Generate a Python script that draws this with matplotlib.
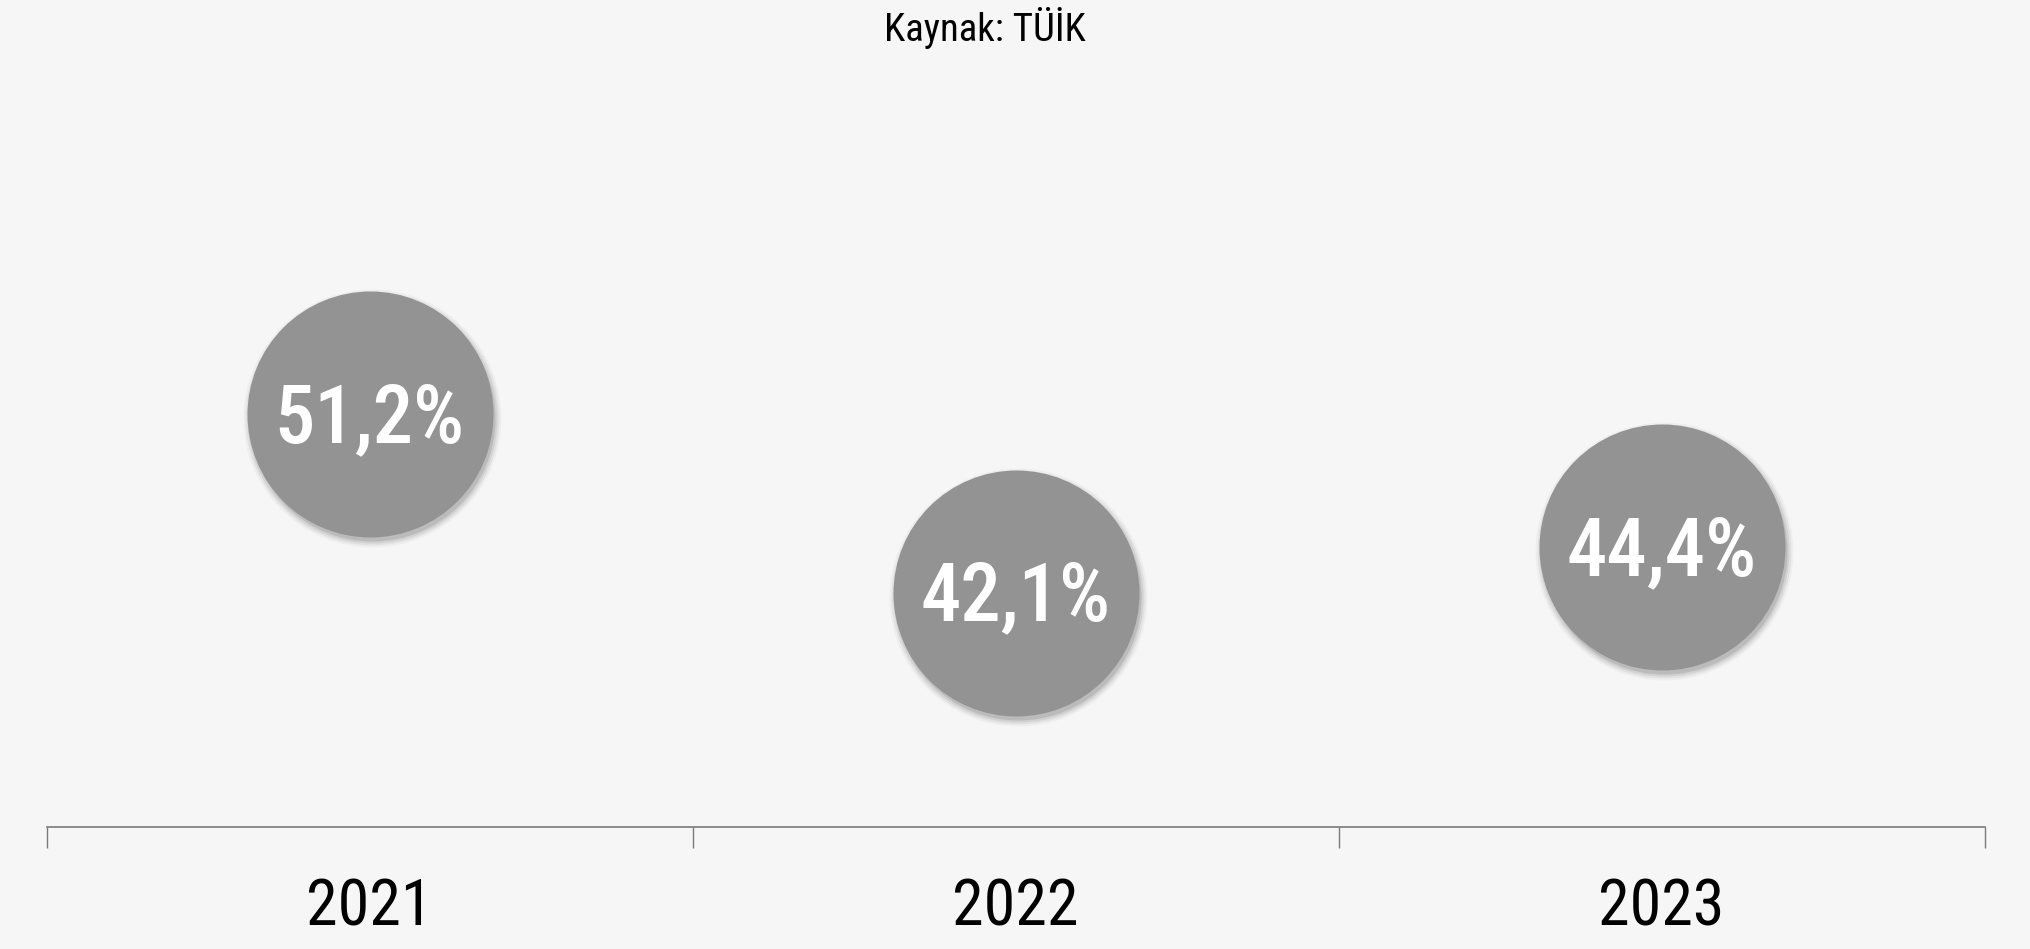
import matplotlib
matplotlib.use("Agg")
import matplotlib.pyplot as plt
import matplotlib.transforms as mtrans

years = ["2021", "2022", "2023"]
values = [51.2, 42.1, 44.4]
labels = ["51,2%", "42,1%", "44,4%"]
source = "Kaynak: TÜİK"

FONT = ["Roboto Condensed", "DejaVu Sans"]

W, H = 2030, 949
fig = plt.figure(figsize=(W / 100, H / 100), dpi=100)
fig.patch.set_facecolor("#f6f6f6")

left, right = 46.6, 1984.6
bottom, top = 827, 80
ax = fig.add_axes([left / W, 1 - bottom / H, (right - left) / W, (bottom - top) / H])
ax.set_facecolor("none")

px_per_unit = 19.63
ymin = 30.16
ymax = ymin + (bottom - top) / px_per_unit
ax.set_xlim(-0.5, 2.5)
ax.set_ylim(ymin, ymax)

x = list(range(len(years)))
r_px = 123
s = (2 * r_px * 72 / 100) ** 2

# soft shadow
for extra, a in [(6, 0.03), (4, 0.05), (2, 0.07), (0, 0.10)]:
    off = mtrans.offset_copy(ax.transData, fig=fig, x=2, y=-4, units="dots")
    ax.scatter(x, values, s=((2 * (r_px + extra)) * 72 / 100) ** 2, color="black",
               alpha=a, linewidths=0, transform=off, zorder=2)

ax.scatter(x, values, s=s, color="#939393", linewidths=0, zorder=3)
txt_tr = mtrans.offset_copy(ax.transData, fig=fig, x=0, y=-6, units="dots")
for xi, v, lab in zip(x, values, labels):
    ax.text(xi, v, lab, ha="center", va="center", color="white", transform=txt_tr,
            fontsize=58, family=FONT, fontweight=500, zorder=4)

for sp in ["top", "right", "left"]:
    ax.spines[sp].set_visible(False)
ax.spines["bottom"].set_color("#7a7a7a")
ax.spines["bottom"].set_linewidth(1.2)
ax.set_yticks([])
ax.set_xticks(x)
ax.set_xticklabels(years, fontsize=46, family=FONT, color="black")
ax.tick_params(axis="x", which="major", length=0, pad=36)
ax.set_xticks([-0.5, 0.5, 1.5, 2.5], minor=True)
ax.tick_params(axis="x", which="minor", length=15, width=1.0, color="#7a7a7a")

fig.text(985 / W, 1 - 28 / H, source, ha="center", va="center",
         fontsize=28, family=FONT, color="black")

fig.savefig("out.png", dpi=100, facecolor=fig.get_facecolor())
